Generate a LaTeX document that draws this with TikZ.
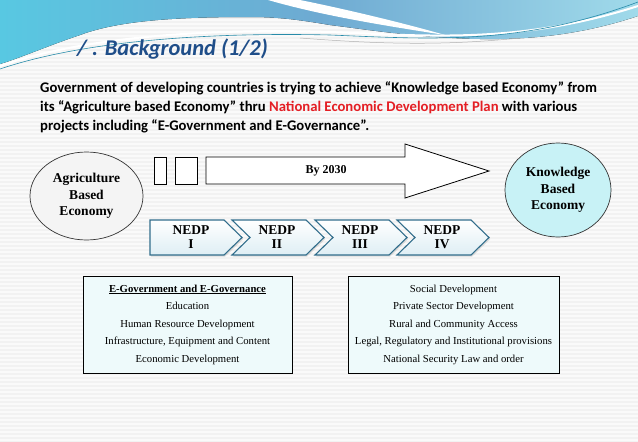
\documentclass[tikz,border=0pt]{standalone}
\usepackage{fontspec}
\setmainfont{Liberation Serif}
\newfontfamily\carlito{Carlito}
\usetikzlibrary{shapes.geometric,shadows}
\definecolor{titleblue}{RGB}{31,78,137}
\definecolor{planred}{RGB}{228,30,36}
\definecolor{chevborder}{RGB}{50,110,140}
\definecolor{chevlow}{RGB}{222,238,244}
\definecolor{knowfill}{RGB}{200,242,246}
\definecolor{boxfill}{RGB}{238,250,251}
\definecolor{agrifill}{RGB}{244,244,244}
\definecolor{bgcol}{RGB}{250,250,250}
\definecolor{stripecol}{RGB}{242,242,242}
\definecolor{bannerA}{RGB}{88,200,226}
\definecolor{bannerB}{RGB}{110,170,210}
\definecolor{bannerC}{RGB}{160,218,234}
\definecolor{waveline}{RGB}{40,140,170}
\tikzset{
  para/.style={anchor=base west, inner sep=0pt, font=\carlito\bfseries\fontsize{14.7}{17}\selectfont},
  bubble/.style={ellipse, draw=black!80, line width=0.7pt, align=center,
     font=\bfseries\fontsize{13.5}{16.5}\selectfont, inner sep=0pt},
  smallbox/.style={draw=black, line width=0.8pt, fill=white, inner sep=0pt},
  chev/.style={draw=chevborder, line width=1.1pt, top color=white, bottom color=chevlow,
     drop shadow={opacity=0.25, shadow xshift=1.2pt, shadow yshift=-1.5pt}},
  chevtext/.style={align=center, font=\bfseries\fontsize{13.5}{14}\selectfont, inner sep=0pt},
  listbox/.style={draw=black, line width=0.9pt, fill=boxfill, align=center,
     font=\fontsize{10.7}{17.5}\selectfont, inner sep=0pt},
}
\begin{document}
\begin{tikzpicture}[x=1pt,y=-1pt]
\useasboundingbox (0,0) rectangle (638,442);
% background
\fill[bgcol] (0,0) rectangle (638,442);
\foreach \yy in {2,6,...,442} \draw[stripecol, line width=1.6pt] (0,\yy) -- (638,\yy);
% banner
\fill[left color=bannerA, right color=bannerC, middle color=bannerB]
  (0,0) -- (638,0) -- (638,16)
  .. controls (590,32) and (540,40) .. (480,39)
  .. controls (420,38) and (370,30) .. (330,25)
  .. controls (300,20) and (280,17) .. (250,17)
  .. controls (180,17) and (120,20) .. (80,35)
  .. controls (50,45) and (20,58) .. (0,64) -- cycle;
\fill[white] (268,0) -- (300,0) .. controls (340,8) and (400,22) .. (445,35)
  .. controls (380,25) and (320,15) .. (268,0) -- cycle;
\draw[white, line width=2pt] (0,66) .. controls (80,38) and (200,28) .. (330,32)
  .. controls (430,36) and (520,44) .. (638,6);
\draw[waveline, line width=0.6pt] (0,69) .. controls (80,42) and (200,32) .. (330,35)
  .. controls (430,39) and (520,46) .. (638,2);
\draw[gray!60, line width=0.5pt] (300,38) .. controls (380,44) and (440,46) .. (520,38);
% title
\node[anchor=base west, inner sep=0pt, text=titleblue,
  font=\carlito\bfseries\itshape\fontsize{22.5}{26}\selectfont] (title) at (77,55) {/ . Background (1/2)};
% paragraph
\node[para] (p1) at (40,92.5) {Government of developing countries is trying to achieve “Knowledge based Economy” from};
\node[para] (p2) at (40,111.5) {its “Agriculture based Economy” thru \textcolor{planred}{National Economic Development Plan} with various};
\node[para] (p3) at (40,130) {projects including “E-Government and E-Governance”.};
% ellipses
\node[bubble, fill=agrifill, minimum width=113pt, minimum height=88pt] (agri) at (86.5,196)
  {Agriculture\\Based\\Economy};
\node[bubble, fill=knowfill, minimum width=106pt, minimum height=94pt] (know) at (558,190)
  {Knowledge\\Based\\Economy};
% small squares
\node[smallbox, minimum width=12pt, minimum height=27pt] (sq1) at (160,170.5) {};
\node[smallbox, minimum width=22pt, minimum height=27pt] (sq2) at (186,170.5) {};
% big arrow
\draw[line width=0.8pt, fill=white] (206,157) -- (405,157) -- (405,144) -- (489,171)
  -- (405,198) -- (405,184) -- (206,184) -- cycle;
\node[font=\bfseries\fontsize{12}{14}\selectfont, inner sep=0pt] (by) at (326,171) {By 2030};
% chevrons
\path[chev] (150,220) -- (224,220) -- (242,237.5) -- (224,255) -- (150,255) -- cycle;
\path[chev] (232,220) -- (306,220) -- (324,237.5) -- (306,255) -- (232,255) -- (250,237.5) -- cycle;
\path[chev] (315,220) -- (389,220) -- (407,237.5) -- (389,255) -- (315,255) -- (333,237.5) -- cycle;
\path[chev] (397,220) -- (471,220) -- (489,237.5) -- (471,255) -- (397,255) -- (415,237.5) -- cycle;
\node[chevtext] (n1) at (191,237.5) {NEDP\\I};
\node[chevtext] (n2) at (277,237.5) {NEDP\\II};
\node[chevtext] (n3) at (360,237.5) {NEDP\\III};
\node[chevtext] (n4) at (442,237.5) {NEDP\\IV};
% list boxes
\node[listbox, minimum width=209pt, minimum height=97pt] (lbox) at (187.5,324.5)
  {\underline{\textbf{E-Government and E-Governance}}\\Education\\Human Resource Development\\Infrastructure, Equipment and Content\\Economic Development};
\node[listbox, minimum width=211pt, minimum height=97pt] (rbox) at (453.5,324.5)
  {Social Development\\Private Sector Development\\Rural and Community Access\\Legal, Regulatory and Institutional provisions\\National Security Law and order};
\end{tikzpicture}
\end{document}
